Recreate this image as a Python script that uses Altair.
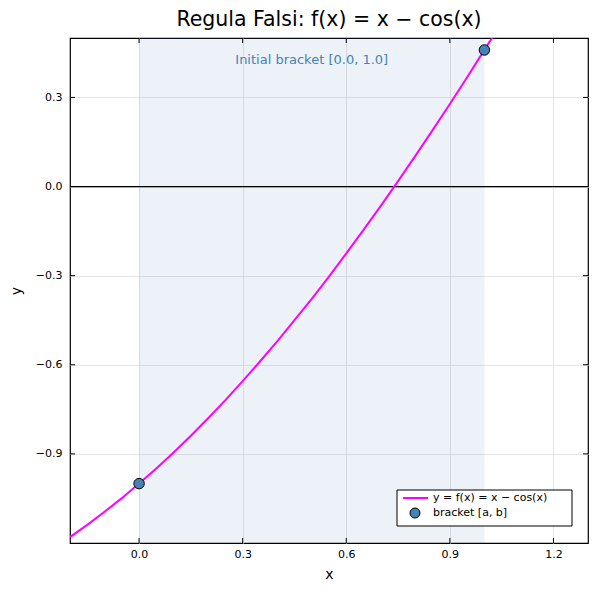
import altair as alt
import pandas as pd

# curve samples: y = x - cos(x)
curve_x = [-0.2, -0.15, -0.1, -0.05, 0.0, 0.05, 0.1, 0.15, 0.2, 0.25, 0.3, 0.35, 0.4, 0.45,
           0.5, 0.55, 0.6, 0.65, 0.7, 0.75, 0.8, 0.85, 0.9, 0.95, 1.0, 1.05, 1.1]
curve_y = [-1.180, -1.139, -1.095, -1.049, -1.000, -0.949, -0.895, -0.839, -0.780, -0.719,
           -0.655, -0.589, -0.521, -0.450, -0.378, -0.303, -0.225, -0.146, -0.065, 0.018,
           0.103, 0.190, 0.278, 0.368, 0.460, 0.552, 0.646]
bracket_x = [0.0, 1.0]
bracket_y = [-1.0, 0.4597]
shade_x = [0.0]
shade_x2 = [1.0]
x_ticks = [0.0, 0.3, 0.6, 0.9, 1.2]
y_ticks = [-0.9, -0.6, -0.3, 0.0, 0.3]
x_domain = [-0.2, 1.3]
y_domain = [-1.2, 0.5]
legend_labels = ["y = f(x) = x \u2212 cos(x)", "bracket [a, b]"]
annotation = "Initial bracket [0.0, 1.0]"

W, H = 518, 505
FONT = "DejaVu Sans"

xs = alt.Scale(domain=x_domain, nice=False, zero=False)
ys = alt.Scale(domain=y_domain, nice=False, zero=False)
minus = "replace(format(datum.value, '.1f'), '-', '\u2212')"

xaxis = alt.Axis(values=x_ticks, labelExpr=minus, title="x", grid=True, gridColor="#e5e5e5",
                 tickSize=0, domain=False, labelPadding=5, titlePadding=8,
                 labelFontSize=11, titleFontSize=14, labelFont=FONT, titleFont=FONT,
                 labelColor="black", titleColor="black", titleFontWeight="normal")
yaxis = alt.Axis(values=y_ticks, labelExpr=minus, title="y", grid=True, gridColor="#e5e5e5",
                 tickSize=0, domain=False, labelPadding=8, titlePadding=12,
                 labelFontSize=11, titleFontSize=14, labelFont=FONT, titleFont=FONT,
                 labelColor="black", titleColor="black", titleFontWeight="normal")

shade = alt.Chart(pd.DataFrame({"x": shade_x, "x2": shade_x2})).mark_rect(
    color="#4682b4", opacity=0.1
).encode(
    x=alt.X("x:Q", scale=xs, axis=xaxis),
    x2="x2:Q",
    y=alt.value(0), y2=alt.value(H),
)

zero = alt.Chart(pd.DataFrame({"y": [0.0]})).mark_rule(color="black", strokeWidth=1.2).encode(
    y=alt.Y("y:Q", scale=ys, axis=yaxis)
)

curve = alt.Chart(pd.DataFrame({"x": curve_x, "y": curve_y})).mark_line(
    color="#ff00ff", strokeWidth=2, clip=True
).encode(
    x=alt.X("x:Q", scale=xs), y=alt.Y("y:Q", scale=ys)
)

pts = alt.Chart(pd.DataFrame({"x": bracket_x, "y": bracket_y})).mark_point(
    filled=True, fill="#4682b4", stroke="black", strokeWidth=1, size=110, opacity=1
).encode(
    x=alt.X("x:Q", scale=xs), y=alt.Y("y:Q", scale=ys)
)

label = alt.Chart(pd.DataFrame({"x": [0.5], "y": [0.425], "t": [annotation]})).mark_text(
    color="#4682b4", fontSize=13, font=FONT, align="center", baseline="middle"
).encode(
    x=alt.X("x:Q", scale=xs), y=alt.Y("y:Q", scale=ys), text="t:N"
)

xt = pd.DataFrame({"v": x_ticks})
yt = pd.DataFrame({"v": y_ticks})
xtick_b = alt.Chart(xt).mark_rule(color="black").encode(
    x=alt.X("v:Q", scale=xs), y=alt.value(H), y2=alt.value(H - 5))
xtick_t = alt.Chart(xt).mark_rule(color="black").encode(
    x=alt.X("v:Q", scale=xs), y=alt.value(0), y2=alt.value(5))
ytick_l = alt.Chart(yt).mark_rule(color="black").encode(
    y=alt.Y("v:Q", scale=ys), x=alt.value(0), x2=alt.value(5))
ytick_r = alt.Chart(yt).mark_rule(color="black").encode(
    y=alt.Y("v:Q", scale=ys), x=alt.value(W), x2=alt.value(W - 5))

one = pd.DataFrame({"a": [0]})
lg_box = alt.Chart(one).mark_rect(fill="white", stroke="black", strokeWidth=1).encode(
    x=alt.value(327), x2=alt.value(502), y=alt.value(452), y2=alt.value(488))
lg_line = alt.Chart(one).mark_rule(color="#ff00ff", strokeWidth=2).encode(
    x=alt.value(333), x2=alt.value(358), y=alt.value(460))
lg_pt = alt.Chart(one).mark_point(filled=True, fill="#4682b4", stroke="black",
                                  strokeWidth=1, size=100, opacity=1).encode(
    x=alt.value(345), y=alt.value(475))
lg_txt = alt.Chart(pd.DataFrame({"t": legend_labels, "yy": [460, 475]})).mark_text(
    align="left", baseline="middle", fontSize=11, font=FONT, color="black"
).encode(
    x=alt.value(363), y=alt.Y("yy:Q", scale=None), text="t:N")

chart = alt.layer(
    shade, zero, curve, pts, label, xtick_b, xtick_t, ytick_l, ytick_r,
    lg_box, lg_line, lg_pt, lg_txt
).properties(
    width=W, height=H,
    title=alt.Title("Regula Falsi: f(x) = x \u2212 cos(x)", fontSize=20.5, font=FONT,
                    fontWeight="normal", color="black", anchor="middle", offset=7),
    autosize=alt.AutoSizeParams(type="none"),
    padding={"left": 62, "top": 30, "right": 4, "bottom": 49},
).configure_view(stroke="black", strokeWidth=1.2)

chart.save("out.html", embed_options={"renderer": "svg", "actions": False})
